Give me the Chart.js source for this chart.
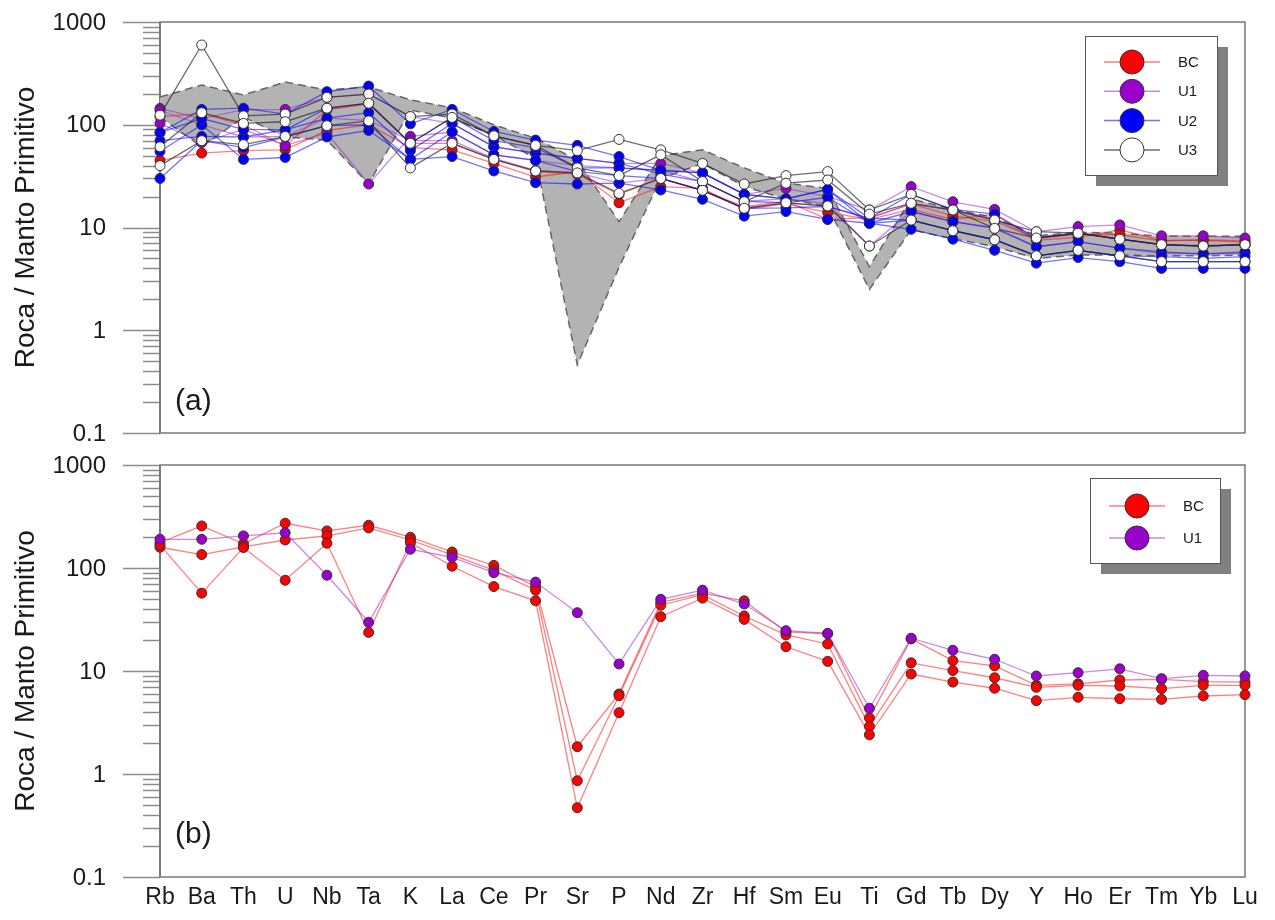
<!DOCTYPE html>
<html>
<head>
<meta charset="utf-8">
<title>Roca / Manto Primitivo</title>
<script src="https://cdn.jsdelivr.net/npm/chart.js@4.4.0/dist/chart.umd.min.js"></script>
<style>
    body { margin: 0; background: #ffffff; }
    #wrap { position: relative; width: 1275px; height: 920px; }
    #wrap canvas { position: absolute; left: 0; }
</style>
</head>
<body>
<div id="wrap">
    <canvas id="chartA" width="1275" height="450" style="top:0px"></canvas>
    <canvas id="chartB" width="1275" height="475" style="top:445px"></canvas>
</div>
<script>
// Spider diagram data (normalised to primitive mantle)

const elements = ['Rb', 'Ba', 'Th', 'U', 'Nb', 'Ta', 'K', 'La', 'Ce', 'Pr', 'Sr', 'P', 'Nd', 'Zr',
    'Hf', 'Sm', 'Eu', 'Ti', 'Gd', 'Tb', 'Dy', 'Y', 'Ho', 'Er', 'Tm', 'Yb', 'Lu'];

const yTickValues = [0.1, 1, 10, 100, 1000];
const yTickLabels = ['0.1', '1', '10', '100', '1000'];

// Reference field (grey envelope, panel a)
const envelopeUpper = [186, 244, 195, 260, 218, 233, 175, 146, 100, 74, 45, 11.4, 50, 57, 38, 27, 24, 4.15, 19, 15, 12.5, 8.3, 9.0, 8.8, 8.2, 8.2, 8.2];
const envelopeLower = [119, 61, 119, 76, 71, 26.5, 139, 116, 79, 47, 0.46, 4.1, 30, 42, 25, 19, 16, 2.5, 9.5, 7.8, 6.5, 5.0, 5.4, 5.4, 5.3, 5.3, 5.4];

// Panel a samples
const bcA1 = [45, 53, 56, 57, 88, 100, 60, 57, 42, 31, 35, 17.4, 25, 24, 15, 17, 14, 12, 15, 12, 13.5, 7.5, 8, 9.5, 7.5, 7.5, 7.2];
const bcA2 = [120, 128, 100, 62, 140, 160, 66, 66, 46, 35, 33, 21, 30, 23, 16, 18, 12, 12.5, 17, 13, 11.5, 7.8, 8.6, 8.5, 7.4, 7.6, 7.4];

const u1A1 = [144, 115, 140, 141, 185, 200, 120, 103, 61, 53, 47, 42, 42, 34, 21, 24, 20, 14.8, 25, 17.8, 15, 9.1, 10.2, 10.6, 8.3, 8.3, 7.9];
const u1A2 = [103, 67, 90, 63, 83, 26.5, 77, 85, 51, 45, 40, 38, 36, 28, 18, 19, 17, 6.6, 14.3, 11.4, 10, 6.5, 7.3, 6.3, 5.6, 5.6, 5.6];
const u1A3 = [138, 100, 76, 77, 116, 110, 70, 70, 47, 36, 34, 27, 30, 23, 15.4, 17.4, 16, 12.3, 17, 14.8, 12, 7.9, 8.8, 7.7, 6.8, 6.7, 6.8];

const u2A1 = [84, 141, 145, 127, 210, 238, 102, 141, 86, 71, 63, 49, 36, 34, 21, 19, 23.5, 12.3, 21, 15, 13.5, 7.9, 8.8, 7.7, 6.8, 6.6, 6.8];
const u2A2 = [70, 77, 76, 89, 116, 131, 56, 103, 61, 53, 47, 42, 33, 28, 18, 17.4, 19.7, 11, 14.3, 11.4, 9.8, 6.5, 7.3, 6.3, 5.8, 5.5, 5.8];
const u2A3 = [55, 100, 46, 48, 76, 88, 46, 85, 51, 45, 35, 32, 30, 23, 15.4, 15.5, 16, 12.3, 11.8, 9.3, 7.6, 5.3, 6.0, 5.3, 5.2, 5.0, 5.2];
const u2A4 = [30, 70, 60, 76, 98, 100, 46, 49, 35.5, 27.3, 26.5, 27, 23.2, 18.8, 12.9, 14.3, 12, 11, 9.6, 7.7, 6.0, 4.5, 5.1, 4.65, 4.0, 4.0, 4.0];
const u2A5 = [84, 115, 90, 89, 144, 162, 66, 118, 70, 60, 38, 38, 36, 34, 21, 19, 23.5, 11, 11.8, 9.3, 7.6, 5.3, 6.0, 5.3, 4.65, 4.65, 4.65];

const u3A1 = [124, 597, 122, 127, 185, 199, 120, 127, 78, 63, 56, 72, 57, 42, 26.5, 32, 35, 14.8, 21, 14.8, 11.8, 9.1, 8.8, 7.7, 6.8, 6.6, 6.8];
const u3A2 = [61, 131, 103, 107, 145, 162, 66, 118, 78, 63, 38, 32, 51, 28, 17.8, 27, 29, 13.5, 17.2, 14.8, 9.8, 7.9, 8.8, 7.7, 6.8, 6.6, 6.8];
const u3A3 = [40, 70, 64, 77, 98, 109, 38, 66, 46, 35.5, 34, 21.5, 30, 23, 15.4, 17.4, 16.2, 6.6, 11.8, 9.3, 7.6, 5.3, 6.0, 5.3, 4.65, 4.65, 4.65];

// Panel b samples
const bcB1 = [176, 256, 172, 272, 229, 260, 199, 143, 106, 66, 1.84, 5.98, 46.4, 57, 48, 24, 23, 3.5, 20.5, 12.6, 11.2, 7.26, 7.5, 8.18, 8.3, 7.9, 7.8];
const bcB2 = [159, 135, 160, 187, 205, 245, 187, 134, 95, 61, 0.86, 5.75, 43.5, 55, 34.2, 22.4, 18.3, 2.9, 12.0, 10.1, 8.6, 6.94, 7.26, 7.15, 6.74, 7.26, 7.26];
const bcB3 = [167, 57, 158, 76, 174, 23.7, 176, 104, 66, 48, 0.47, 3.94, 33.7, 51, 31.7, 17.2, 12.4, 2.4, 9.35, 7.8, 6.8, 5.15, 5.55, 5.38, 5.3, 5.72, 5.89];
const u1B1 = [190, 190, 205, 220, 85, 29.7, 152, 127, 90, 73, 36.8, 11.7, 49.7, 61, 44.7, 24.6, 23.2, 4.35, 20.8, 15.9, 13.0, 8.94, 9.63, 10.5, 8.43, 9.08, 8.94];

const groupStyles = {
    BC: { fill: '#ff0000', line: 'rgba(255, 0, 0, 0.5)' },
    U1: { fill: '#9900cc', line: 'rgba(160, 40, 210, 0.55)' },
    U2: { fill: '#0000ff', line: 'rgba(0, 0, 255, 0.55)' },
    U3: { fill: '#ffffff', line: 'rgba(30, 30, 30, 0.65)' }
};

const FONT = 'Arial, "Liberation Sans", sans-serif';

function sampleDataset(group, values, order) {
    const s = groupStyles[group];
    return {
        label: group,
        data: values,
        borderColor: s.line,
        borderWidth: 1.3,
        pointBackgroundColor: s.fill,
        pointBorderColor: '#333333',
        pointBorderWidth: 1,
        pointRadius: 5,
        fill: false,
        tension: 0,
        clip: false,
        order: order
    };
}

function envelopeDatasets() {
    const edge = {
        borderColor: '#666666',
        borderWidth: 1.5,
        borderDash: [8, 5],
        pointRadius: 0,
        tension: 0,
        clip: false
    };
    return [
        Object.assign({ label: 'lower', data: envelopeLower, fill: false, order: 100 }, edge),
        Object.assign({ label: 'upper', data: envelopeUpper, fill: 0, backgroundColor: '#b3b3b3', order: 101 }, edge)
    ];
}

// Frame, log ticks, titles and panel letter
const panelAxes = {
    id: 'panelAxes',
    beforeDatasetsDraw(chart, args, opts) {
        const { ctx, chartArea: a, scales: { x, y } } = chart;
        ctx.save();

        // minor + major ticks outside the left axis
        ctx.strokeStyle = '#8c8c8c';
        ctx.lineWidth = 1.5;
        for (let d = -1; d <= 3; d++) {
            const base = Math.pow(10, d);
            const py = Math.round(y.getPixelForValue(base)) + 0.5;
            ctx.beginPath();
            ctx.moveTo(a.left - 37, py);
            ctx.lineTo(a.left, py);
            ctx.stroke();
            if (d < 3) {
                for (let k = 2; k <= 9; k++) {
                    const my = Math.round(y.getPixelForValue(k * base)) + 0.5;
                    ctx.beginPath();
                    ctx.moveTo(a.left - 17, my);
                    ctx.lineTo(a.left, my);
                    ctx.stroke();
                }
            }
        }

        // frame
        ctx.strokeStyle = '#555555';
        ctx.lineWidth = 1.2;
        ctx.strokeRect(a.left, a.top, a.right - a.left, a.bottom - a.top);
        ctx.strokeStyle = '#7a7a7a';
        ctx.lineWidth = 2;
        ctx.beginPath();
        ctx.moveTo(a.left, a.top);
        ctx.lineTo(a.left, a.bottom);
        ctx.stroke();

        // tick labels
        ctx.fillStyle = '#1a1a1a';
        ctx.font = '24px ' + FONT;
        ctx.textAlign = 'right';
        ctx.textBaseline = 'middle';
        yTickValues.forEach((v, i) => {
            ctx.fillText(yTickLabels[i], a.left - 54, y.getPixelForValue(v) + 1);
        });

        // axis title
        ctx.save();
        ctx.translate(34, (a.top + a.bottom) / 2);
        ctx.rotate(-Math.PI / 2);
        ctx.textAlign = 'center';
        ctx.textBaseline = 'alphabetic';
        ctx.font = '28px ' + FONT;
        ctx.fillText('Roca / Manto Primitivo', 0, 0);
        ctx.restore();

        // element labels
        if (opts.showElements) {
            ctx.font = '23px ' + FONT;
            ctx.textAlign = 'center';
            ctx.textBaseline = 'middle';
            elements.forEach((el, i) => {
                ctx.fillText(el, x.getPixelForValue(i), opts.elementsY);
            });
        }

        // panel letter
        ctx.font = '30px ' + FONT;
        ctx.textAlign = 'left';
        ctx.textBaseline = 'alphabetic';
        ctx.fillText(opts.letter, a.left + 15, opts.letterY);
        ctx.restore();
    }
};

// Boxed legend with drop shadow
const panelLegend = {
    id: 'panelLegend',
    afterDatasetsDraw(chart, args, opts) {
        const { ctx } = chart;
        const [bx, by, bw, bh] = opts.box;
        ctx.save();
        ctx.fillStyle = '#808080';
        ctx.fillRect(bx + 11, by + 11, bw, bh);
        ctx.fillStyle = '#ffffff';
        ctx.fillRect(bx, by, bw, bh);
        ctx.strokeStyle = '#555555';
        ctx.lineWidth = 1;
        ctx.strokeRect(bx + 0.5, by + 0.5, bw, bh);

        opts.items.forEach((group, i) => {
            const s = groupStyles[group];
            const cy = opts.firstRow + i * opts.rowStep;
            const cx = bx + 47;
            ctx.strokeStyle = s.line;
            ctx.lineWidth = 1.5;
            ctx.beginPath();
            ctx.moveTo(bx + 19, cy);
            ctx.lineTo(bx + 75, cy);
            ctx.stroke();
            ctx.beginPath();
            ctx.arc(cx, cy, 12, 0, Math.PI * 2);
            ctx.fillStyle = s.fill;
            ctx.fill();
            ctx.strokeStyle = '#333333';
            ctx.lineWidth = 1;
            ctx.stroke();
            ctx.fillStyle = '#1a1a1a';
            ctx.font = '15px ' + FONT;
            ctx.textAlign = 'left';
            ctx.textBaseline = 'middle';
            ctx.fillText(group, bx + 93, cy + 1);
        });
        ctx.restore();
    }
};

function baseOptions(padding, axesOpts, legendOpts) {
    return {
        responsive: false,
        animation: false,
        events: [],
        layout: { padding: padding },
        scales: {
            x: { type: 'category', display: false },
            y: { type: 'logarithmic', min: 0.1, max: 1000, display: false }
        },
        plugins: {
            legend: { display: false },
            tooltip: { enabled: false },
            filler: { propagate: false },
            panelAxes: axesOpts,
            panelLegend: legendOpts
        }
    };
}

// Panel a
new Chart(document.getElementById('chartA'), {
    type: 'line',
    data: {
        labels: elements,
        datasets: envelopeDatasets().concat([
            sampleDataset('BC', bcA1, 42),
            sampleDataset('BC', bcA2, 41),
            sampleDataset('U1', u1A1, 33),
            sampleDataset('U1', u1A2, 32),
            sampleDataset('U1', u1A3, 31),
            sampleDataset('U2', u2A1, 25),
            sampleDataset('U2', u2A2, 24),
            sampleDataset('U2', u2A3, 23),
            sampleDataset('U2', u2A4, 22),
            sampleDataset('U2', u2A5, 21),
            sampleDataset('U3', u3A1, 13),
            sampleDataset('U3', u3A2, 12),
            sampleDataset('U3', u3A3, 11)
        ])
    },
    options: baseOptions(
        { left: 160, right: 30, top: 22, bottom: 17 },
        { letter: '(a)', letterY: 410, showElements: false },
        { box: [1085, 36, 132, 139], items: ['BC', 'U1', 'U2', 'U3'], firstRow: 62, rowStep: 29.3 }
    ),
    plugins: [panelAxes, panelLegend]
});

// Panel b
new Chart(document.getElementById('chartB'), {
    type: 'line',
    data: {
        labels: elements,
        datasets: [
            sampleDataset('BC', bcB1, 23),
            sampleDataset('BC', bcB2, 22),
            sampleDataset('BC', bcB3, 21),
            sampleDataset('U1', u1B1, 10)
        ]
    },
    options: baseOptions(
        { left: 160, right: 30, top: 20, bottom: 43 },
        { letter: '(b)', letterY: 398, showElements: true, elementsY: 453 },
        { box: [1090, 33, 130, 85], items: ['BC', 'U1'], firstRow: 61, rowStep: 32 }
    ),
    plugins: [panelAxes, panelLegend]
});
</script>
</body>
</html>
